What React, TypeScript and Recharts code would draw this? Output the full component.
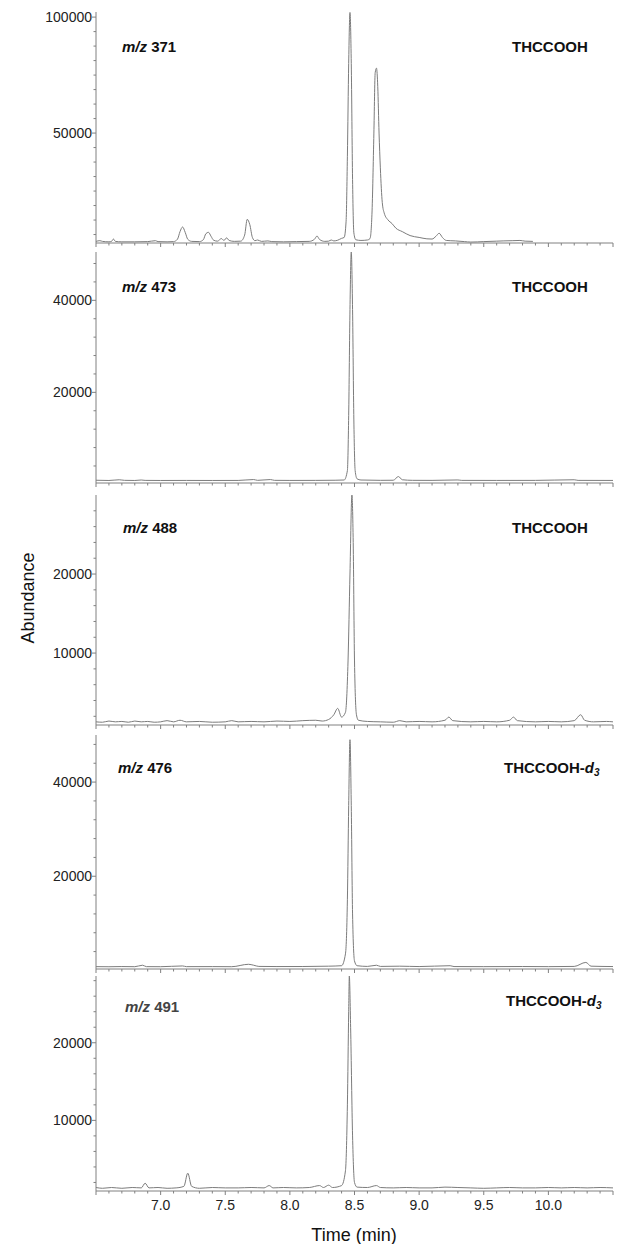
import React from 'react';
import { LineChart, Line, XAxis, YAxis } from 'recharts';

// ---------- axis tick values ----------
const timeTicks = [
  6.5, 6.6, 6.7, 6.8, 6.9, 7.0, 7.1, 7.2, 7.3, 7.4, 7.5, 7.6, 7.7, 7.8, 7.9, 8.0, 8.1, 8.2, 8.3, 8.4,
  8.5, 8.6, 8.7, 8.8, 8.9, 9.0, 9.1, 9.2, 9.3, 9.4, 9.5, 9.6, 9.7, 9.8, 9.9, 10.0, 10.1, 10.2, 10.3, 10.4, 10.5,
];
const timeLabels = [7.0, 7.5, 8.0, 8.5, 9.0, 9.5, 10.0];

const p1Major = [50000, 100000];
const p1Minor = [6250, 12500, 18750, 25000, 31250, 37500, 43750, 56250, 62500, 68750, 75000, 81250, 87500, 93750];
const p24Major = [20000, 40000];
const p24Minor = [4000, 8000, 12000, 16000, 24000, 28000, 32000, 36000, 44000, 48000];
const p35Major = [10000, 20000];
const p35Minor = [2000, 4000, 6000, 8000, 12000, 14000, 16000, 18000, 22000, 24000, 26000, 28000];

// ---------- series (time [min], abundance) ----------
const mz371: [number, number][] = [
  [6.5, 3300], [6.53, 3600], [6.55, 3300], [6.6, 3100], [6.62, 3300], [6.635, 4300], [6.65, 3300],
  [6.7, 3100], [6.8, 3100], [6.9, 3200], [6.96, 3600], [6.98, 3200], [7.05, 3100], [7.1, 3200],
  [7.13, 4200], [7.15, 7500], [7.17, 9500], [7.19, 7200], [7.21, 4200], [7.24, 3300], [7.3, 3200],
  [7.33, 4000], [7.35, 6600], [7.37, 7200], [7.39, 5500], [7.41, 3800], [7.44, 3400], [7.47, 4500],
  [7.49, 3700], [7.51, 4800], [7.53, 3700], [7.57, 3300], [7.62, 3400], [7.65, 6000], [7.67, 12800],
  [7.69, 10500], [7.71, 5000], [7.73, 3600], [7.75, 3900], [7.78, 3300], [7.83, 3500], [7.86, 3200],
  [7.95, 3100], [8.05, 3200], [8.15, 3300], [8.19, 4200], [8.21, 5600], [8.23, 4100], [8.27, 3300],
  [8.3, 3400], [8.32, 3900], [8.34, 3500], [8.37, 3800], [8.4, 4600], [8.42, 5000], [8.435, 12000],
  [8.445, 40000], [8.455, 80000], [8.465, 102000], [8.475, 80000], [8.485, 30000], [8.495, 7000],
  [8.51, 4000], [8.55, 3700], [8.6, 3900], [8.62, 4500], [8.635, 15000], [8.65, 50000], [8.66, 76000],
  [8.67, 78000], [8.68, 70000], [8.69, 50000], [8.7, 35000], [8.715, 20000], [8.73, 15500],
  [8.76, 12500], [8.79, 11000], [8.82, 9000], [8.87, 7500], [8.93, 5800], [9.0, 5000], [9.06, 4400],
  [9.1, 4300], [9.13, 5500], [9.155, 6800], [9.18, 5000], [9.21, 3700], [9.28, 3500], [9.35, 3200],
  [9.4, 3000], [9.5, 3200], [9.6, 3400], [9.65, 3500], [9.72, 3600], [9.78, 3700], [9.82, 3400], [9.88, 3300],
];

const mz473: [number, number][] = [
  [6.5, 900], [6.6, 850], [6.68, 1000], [6.72, 880], [6.8, 850], [6.85, 950], [6.88, 870], [7.0, 850],
  [7.2, 860], [7.4, 850], [7.6, 860], [7.72, 1050], [7.75, 880], [7.85, 1050], [7.88, 880], [8.0, 860],
  [8.2, 870], [8.35, 900], [8.42, 950], [8.445, 3000], [8.455, 15000], [8.465, 38000], [8.475, 50500],
  [8.485, 38000], [8.495, 14000], [8.505, 3000], [8.52, 1200], [8.55, 950], [8.7, 880], [8.8, 900],
  [8.84, 1700], [8.87, 1000], [8.95, 880], [9.1, 870], [9.3, 960], [9.33, 870], [9.6, 860], [9.9, 870],
  [10.2, 1000], [10.23, 870], [10.5, 860],
];

const mz488: [number, number][] = [
  [6.5, 1300], [6.55, 1250], [6.6, 1400], [6.65, 1300], [6.7, 1350], [6.75, 1250], [6.8, 1400],
  [6.85, 1300], [6.9, 1350], [6.95, 1250], [7.0, 1300], [7.05, 1450], [7.1, 1300], [7.15, 1500],
  [7.2, 1300], [7.3, 1350], [7.4, 1250], [7.5, 1300], [7.55, 1450], [7.6, 1300], [7.7, 1350],
  [7.8, 1300], [7.9, 1400], [8.0, 1350], [8.1, 1450], [8.2, 1500], [8.25, 1400], [8.3, 1600],
  [8.34, 2200], [8.37, 3000], [8.4, 1900], [8.43, 2500], [8.45, 9000], [8.465, 20000], [8.48, 30000],
  [8.49, 24000], [8.5, 9000], [8.515, 2200], [8.53, 1500], [8.6, 1350], [8.7, 1300], [8.8, 1250],
  [8.85, 1450], [8.9, 1300], [9.0, 1350], [9.1, 1300], [9.2, 1500], [9.23, 1900], [9.26, 1450],
  [9.4, 1300], [9.5, 1350], [9.6, 1300], [9.7, 1500], [9.73, 1900], [9.76, 1450], [9.9, 1300],
  [10.0, 1350], [10.1, 1300], [10.2, 1450], [10.25, 2200], [10.28, 1500], [10.35, 1300],
  [10.45, 1350], [10.5, 1300],
];

const mz476: [number, number][] = [
  [6.5, 800], [6.6, 780], [6.7, 820], [6.8, 790], [6.86, 1100], [6.89, 800], [7.0, 790], [7.17, 950],
  [7.2, 800], [7.4, 810], [7.55, 790], [7.68, 1300], [7.72, 1100], [7.76, 850], [7.9, 820], [8.1, 830],
  [8.3, 900], [8.4, 1000], [8.43, 3500], [8.445, 15000], [8.455, 35000], [8.465, 49000],
  [8.475, 35000], [8.485, 12000], [8.5, 2000], [8.52, 1000], [8.6, 850], [8.67, 1100], [8.7, 850],
  [8.85, 900], [9.0, 820], [9.24, 1000], [9.27, 820], [9.5, 800], [9.8, 830], [10.0, 800],
  [10.2, 850], [10.29, 1700], [10.33, 900], [10.5, 820],
];

const mz491: [number, number][] = [
  [6.5, 1350], [6.55, 1250], [6.62, 1350], [6.7, 1250], [6.78, 1350], [6.85, 1300], [6.88, 1900],
  [6.91, 1300], [6.98, 1350], [7.05, 1250], [7.12, 1300], [7.18, 1500], [7.21, 3200], [7.24, 1500],
  [7.3, 1250], [7.4, 1350], [7.5, 1300], [7.6, 1300], [7.7, 1350], [7.8, 1300], [7.84, 1600],
  [7.87, 1300], [7.95, 1350], [8.05, 1300], [8.15, 1350], [8.23, 1600], [8.26, 1350], [8.3, 1650],
  [8.33, 1350], [8.4, 1600], [8.43, 3500], [8.445, 12000], [8.455, 24000], [8.46, 28600],
  [8.47, 22000], [8.485, 8000], [8.5, 2000], [8.52, 1400], [8.6, 1350], [8.67, 1600], [8.7, 1350],
  [8.8, 1300], [8.9, 1350], [9.0, 1300], [9.1, 1300], [9.2, 1400], [9.3, 1350], [9.4, 1300],
  [9.5, 1250], [9.6, 1300], [9.7, 1350], [9.8, 1300], [9.9, 1300], [10.0, 1350], [10.1, 1300],
  [10.2, 1350], [10.3, 1300], [10.4, 1350], [10.5, 1300],
];

const FONT = '"Liberation Sans", Arial, Helvetica, sans-serif';
const AXIS = '#808080';
const TRACE = '#7c7c7c';

const near = (a: number, list: number[]) => list.some((b) => Math.abs(a - b) < 1e-6);

function XTick(props: any) {
  const { x, y, payload, showLabels } = props;
  const v = payload.value;
  const major = Math.abs(v * 2 - Math.round(v * 2)) < 1e-6;
  return (
    <g>
      <line x1={x} x2={x} y1={y} y2={y + (major ? 4 : 2.5)} stroke={AXIS} strokeWidth={1} />
      {showLabels && near(v, timeLabels) ? (
        <text x={x} y={y + 19} textAnchor="middle" fontFamily={FONT} fontSize={14} fill="#222">
          {v.toFixed(1)}
        </text>
      ) : null}
    </g>
  );
}

function YTick(props: any) {
  const { x, y, payload, major } = props;
  const v = payload.value;
  const isMajor = near(v, major);
  return (
    <g>
      <line x1={x - (isMajor ? 4 : 2.5)} x2={x} y1={y} y2={y} stroke={AXIS} strokeWidth={1} />
      {isMajor ? (
        <text x={x - 4} y={y + 5} textAnchor="end" fontFamily={FONT} fontSize={14} fill="#222">
          {v}
        </text>
      ) : null}
    </g>
  );
}

type PanelProps = {
  series: [number, number][];
  domain: [number, number];
  major: number[];
  minor: number[];
  top: number;
  height: number;
  last?: boolean;
};

function Panel({ series, domain, major, minor, top, height, last }: PanelProps) {
  const mt = 4;
  const xh = last ? 28 : 6;
  const data = series.map(([t, v]) => ({ t, v }));
  const yTicks = [...minor, ...major].sort((a, b) => a - b);
  return (
    <div style={{ position: 'absolute', left: 0, top: top - mt }}>
      <LineChart
        width={619}
        height={height + mt + xh}
        data={data}
        margin={{ top: mt, right: 6, bottom: 0, left: 0 }}
      >
        <XAxis
          dataKey="t"
          type="number"
          domain={[6.5, 10.5]}
          allowDataOverflow
          ticks={timeTicks}
          interval={0}
          tickSize={0}
          tickMargin={0}
          height={xh}
          axisLine={{ stroke: AXIS }}
          tick={(p: any) => <XTick {...p} showLabels={!!last} />}
        />
        <YAxis
          type="number"
          domain={domain}
          allowDataOverflow
          ticks={yTicks}
          interval={0}
          width={96}
          tickSize={0}
          tickMargin={0}
          axisLine={{ stroke: AXIS }}
          tick={(p: any) => <YTick {...p} major={major} />}
        />
        <Line
          dataKey="v"
          type="monotone"
          stroke={TRACE}
          strokeWidth={1}
          dot={false}
          isAnimationActive={false}
        />
      </LineChart>
    </div>
  );
}

const labelStyle = (left: number, cy: number, color = '#111'): React.CSSProperties => ({
  position: 'absolute',
  left,
  top: cy - 9,
  lineHeight: '18px',
  fontFamily: FONT,
  fontWeight: 'bold',
  fontSize: 15,
  color,
  whiteSpace: 'nowrap',
});

const D3 = () => (
  <span>
    THCCOOH-<i>d</i>
    <sub style={{ fontSize: 10, fontStyle: 'italic', verticalAlign: '-3px' }}>3</sub>
  </span>
);

export default function App() {
  return (
    <div style={{ position: 'absolute', left: 0, top: 0, width: 619, height: 1244, background: '#fff' }}>
      <Panel series={mz371} domain={[2600, 102200]} major={p1Major} minor={p1Minor} top={12} height={231} />
      <Panel series={mz473} domain={[300, 50500]} major={p24Major} minor={p24Minor} top={252} height={231} />
      <Panel series={mz488} domain={[900, 30000]} major={p35Major} minor={p35Minor} top={495} height={230} />
      <Panel series={mz476} domain={[300, 50000]} major={p24Major} minor={p24Minor} top={735} height={234} />
      <Panel series={mz491} domain={[900, 28600]} major={p35Major} minor={p35Minor} top={976} height={215} last />

      <div style={labelStyle(122, 47)}><i>m/z</i> 371</div>
      <div style={labelStyle(512, 47)}>THCCOOH</div>
      <div style={labelStyle(122, 287)}><i>m/z</i> 473</div>
      <div style={labelStyle(512, 287)}>THCCOOH</div>
      <div style={labelStyle(123, 528)}><i>m/z</i> 488</div>
      <div style={labelStyle(512, 528)}>THCCOOH</div>
      <div style={labelStyle(118, 768)}><i>m/z</i> 476</div>
      <div style={labelStyle(504, 768)}><D3 /></div>
      <div style={labelStyle(125, 1007, '#444')}><i>m/z</i> 491</div>
      <div style={labelStyle(506, 1001)}><D3 /></div>

      <div
        style={{
          position: 'absolute',
          left: 28,
          top: 598,
          transform: 'translate(-50%, -50%) rotate(-90deg)',
          fontFamily: FONT,
          fontSize: 18,
          color: '#111',
          whiteSpace: 'nowrap',
        }}
      >
        Abundance
      </div>
      <div
        style={{
          position: 'absolute',
          left: 354,
          top: 1235,
          transform: 'translate(-50%, -50%)',
          fontFamily: FONT,
          fontSize: 18,
          color: '#111',
          whiteSpace: 'nowrap',
        }}
      >
        Time (min)
      </div>
    </div>
  );
}
